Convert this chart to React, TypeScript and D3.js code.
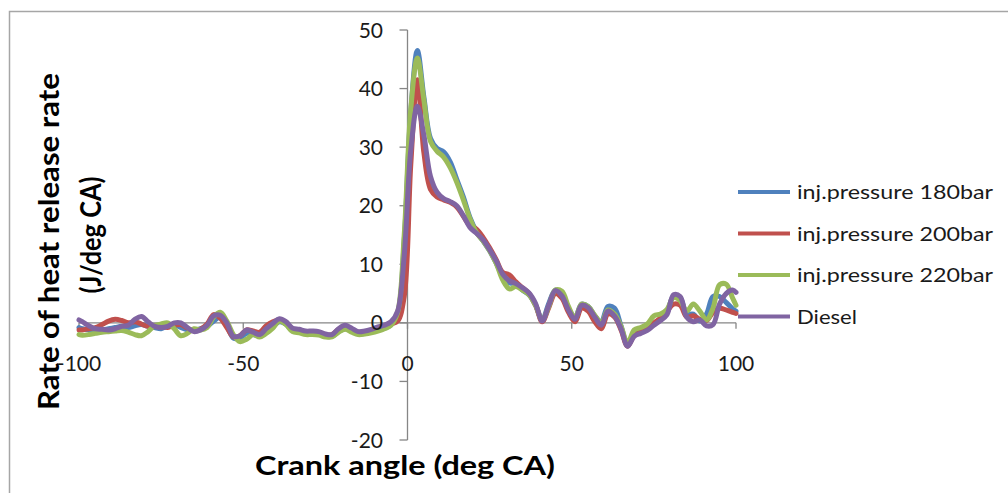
import React from "react";
import * as d3 from "d3";

// Crank angle (deg CA) sample positions
const angles = [
  -100, -99, -97, -95, -93, -91, -89, -87, -85, -83,
  -81, -79, -77, -75, -73, -71, -69, -67, -65, -63,
  -61, -59, -57, -55, -53, -51, -49, -47, -45, -43,
  -41, -39, -37, -35, -33, -31, -29, -27, -25, -23,
  -21, -19, -17, -15, -13, -11, -9, -7, -5, -3,
  -1, 1, 3, 5, 7, 9, 11, 13, 15, 17,
  19, 21, 23, 25, 27, 29, 31, 33, 35, 37,
  39, 41, 43, 45, 47, 49, 51, 53, 55, 57,
  59, 61, 63, 65, 67, 69, 71, 73, 75, 77,
  79, 81, 83, 85, 87, 89, 91, 93, 95, 97,
  99, 100,
];

const p180 = [
  -0.8, -1.0, -1.2, -1.3, -1.2, -1.0, -0.8, -0.6, -0.8, -0.5,
  -0.3, -0.6, -0.8, -1.0, -0.5, -0.3, -0.8, -1.2, -1.3, -1.0,
  -0.6, 0.3, 1.0, -0.5, -2.6, -2.6, -1.8, -2.0, -2.2, -1.5,
  -0.6, 0.2, -0.2, -1.3, -1.5, -1.8, -1.8, -1.9, -2.3, -2.3,
  -1.5, -1.0, -1.4, -1.9, -1.8, -1.5, -1.2, -0.9, -0.3, 1.5,
  14.0, 36.0, 46.5, 38.5, 31.5, 29.8, 29.2, 27.5, 24.5, 21.5,
  18.0, 15.6, 14.0, 12.3, 10.2, 8.0, 6.8, 6.8, 5.6, 4.8,
  3.0, 0.5, 3.3, 5.6, 4.8, 2.5, 0.9, 3.2, 2.8, 1.2,
  0.2, 2.8, 2.5, -0.5, -3.8, -2.0, -1.5, -1.0, -0.2, 0.6,
  1.8, 4.6, 4.3, 1.5, 1.5, 0.3, 1.5, 4.5, 4.5, 3.5,
  2.4, 2.0,
];

const p200 = [
  -1.2, -1.2, -1.0, -0.8, -0.3, 0.3, 0.6, 0.4, 0.0, 0.2,
  -0.2, -0.6, -0.5, -0.6, -0.8, -0.4, -0.3, -0.9, -1.4, -1.1,
  -0.2, 1.4, 0.8, -0.8, -2.4, -2.2, -1.2, -1.4, -1.6, -0.5,
  0.2, 0.5, -0.2, -1.1, -1.3, -1.5, -1.5, -1.7, -2.0, -2.0,
  -1.1, -0.6, -1.1, -1.6, -1.5, -1.3, -0.9, -0.6, -0.2, 0.3,
  4.5, 27.0, 41.5, 29.0, 22.8, 21.5, 21.0, 20.6, 19.8, 18.2,
  16.6, 16.0, 14.6, 12.8, 10.8, 8.6, 8.2, 7.0, 6.0, 5.0,
  3.0, 0.2, 2.6, 5.0, 4.2, 1.8, 0.2, 2.5, 2.0, 0.2,
  -1.0, 1.5, 1.0, -1.2, -4.0, -2.2, -1.6, -1.0, 0.0, 0.8,
  2.0, 3.2, 3.0, 1.0, 1.2, 0.6, 0.4, 1.8, 2.5, 2.2,
  1.8, 1.6,
];

const p220 = [
  -2.0, -2.1, -2.0, -1.8, -1.6, -1.5, -1.4, -1.3, -1.6, -2.0,
  -2.2, -1.5, -0.5, -0.2, 0.0, -1.0, -2.2, -1.8, -1.0, -1.2,
  -0.8, 1.0, 1.8, 0.3, -2.0, -3.2, -2.8, -2.0, -2.4, -1.8,
  -0.9, 0.3, -0.3, -1.5, -1.7, -2.0, -2.0, -2.1, -2.4, -2.4,
  -1.6, -1.1, -1.6, -2.0, -1.9, -1.7, -1.4, -1.0, -0.4, 1.8,
  15.0, 36.5, 45.2, 38.0, 31.0, 29.3, 28.3, 26.5, 24.0, 21.0,
  17.8, 15.4, 14.0, 12.3, 10.2, 7.3, 5.8, 6.2, 5.6, 4.8,
  3.0, 0.5, 2.8, 5.6, 5.4, 2.8, 0.8, 3.2, 2.8, 1.3,
  0.0, 2.2, 1.5, -0.6, -3.5, -1.2, -0.8, -0.2, 1.2, 1.5,
  2.3, 4.3, 3.8, 2.0, 3.2, 2.0, 0.5, 2.5, 6.5, 6.6,
  4.2, 3.0,
];

const diesel = [
  0.5, 0.2, -0.5, -1.0, -1.1, -1.2, -1.0, -0.6, -0.4, 0.6,
  1.1, 0.2, -0.6, -0.8, -0.6, 0.0, 0.0, -0.8, -1.5, -1.2,
  -0.4, 1.2, 1.3, 0.0, -2.3, -2.2, -1.2, -1.6, -2.0, -1.0,
  -0.1, 0.7, 0.2, -0.9, -1.1, -1.4, -1.4, -1.5, -1.9, -2.0,
  -1.0, -0.4, -0.9, -1.5, -1.4, -1.1, -0.7, -0.4, 0.2, 2.0,
  11.5, 29.5, 37.0, 32.0, 25.0, 22.3, 21.2, 20.7, 20.0, 18.3,
  16.3, 15.3, 14.2, 12.5, 10.6, 8.3, 7.2, 6.7, 6.0, 5.1,
  3.3, 0.3, 3.0, 5.5, 4.6, 2.2, 0.6, 3.0, 2.6, 1.0,
  -0.4, 2.0, 1.2, -1.0, -4.0, -2.3, -1.8, -1.3, -0.4, 0.4,
  1.4, 4.8, 4.5, 1.0, 0.2, 0.5, -0.5, -0.3, 3.2, 5.0,
  5.6, 5.2,
];

const seriesNames = ["inj.pressure 180bar", "inj.pressure 200bar", "inj.pressure 220bar", "Diesel"];
const seriesValues = [p180, p200, p220, diesel];
const seriesColors = ["#4F81BD", "#C0504D", "#9BBB59", "#8064A2"];

const yTicks = [-20, -10, 0, 10, 20, 30, 40, 50];
const xTicks = [-100, -50, 0, 50, 100];

const xTitle = "Crank angle (deg CA)";
const yTitle1 = "Rate of heat release rate";
const yTitle2 = "(J/deg CA)";

const FONT = "Lato, 'Open Sans', 'DejaVu Sans', sans-serif";

export default function App() {
  const W = 1008;
  const H = 493;
  const x = d3.scaleLinear().domain([-100, 100]).range([79, 736]);
  const y = d3.scaleLinear().domain([-20, 50]).range([440, 30]);
  const x0 = x(0);
  const y0 = y(0);

  const line = d3
    .line<number>()
    .x((_, i) => x(angles[i]))
    .y((d) => y(d))
    .curve(d3.curveCatmullRom.alpha(0.5));

  const legendY = d3.scalePoint<number>().domain([0, 1, 2, 3]).range([192, 316.5]);

  return (
    <svg
      width={W}
      height={H}
      style={{ position: "absolute", left: 0, top: 0, background: "#fff" }}
      fontFamily={FONT}
    >
      <rect x={0} y={0} width={W} height={H} fill="#fff" />
      {/* chart border (cut off at right/bottom) */}
      <rect x={9.5} y={11.5} width={1010} height={500} fill="none" stroke="#a6a6a6" strokeWidth={1.5} />

      {/* axes */}
      <line x1={x(-100)} x2={x(100)} y1={y0} y2={y0} stroke="#868686" strokeWidth={1.3} />
      <line x1={x0} x2={x0} y1={y(-20)} y2={y(50)} stroke="#868686" strokeWidth={1.3} />
      {yTicks.map((t) => (
        <line key={"yt" + t} x1={x0 - 8} x2={x0} y1={y(t)} y2={y(t)} stroke="#868686" strokeWidth={1.3} />
      ))}
      {xTicks.map((t) => (
        <line key={"xt" + t} x1={x(t)} x2={x(t)} y1={y0} y2={y0 + 6} stroke="#868686" strokeWidth={1.3} />
      ))}

      {/* series */}
      {seriesValues.map((vals, i) => (
        <path
          key={seriesNames[i]}
          d={line(vals) || ""}
          fill="none"
          stroke={seriesColors[i]}
          strokeWidth={5}
          strokeLinejoin="round"
          strokeLinecap="round"
        />
      ))}

      {/* tick labels */}
      {yTicks.map((t) => (
        <text key={"yl" + t} x={383} y={y(t) + 7.5} textAnchor="end" fontSize={21} fill="#1a1a1a">
          {t}
        </text>
      ))}
      {xTicks.map((t) => (
        <text key={"xl" + t} x={x(t)} y={370.5} textAnchor="middle" fontSize={21} fill="#1a1a1a">
          {t}
        </text>
      ))}

      {/* axis titles */}
      <text
        x={405}
        y={475}
        textAnchor="middle"
        fontSize={26}
        fontWeight="bold"
        fill="#000"
        textLength={300}
        lengthAdjust="spacingAndGlyphs"
      >
        {xTitle}
      </text>
      <text
        transform="translate(59,241.5) rotate(-90)"
        textAnchor="middle"
        fontSize={29}
        fontWeight="bold"
        fill="#000"
        textLength={337}
        lengthAdjust="spacingAndGlyphs"
      >
        {yTitle1}
      </text>
      <text
        transform="translate(101,235) rotate(-90)"
        textAnchor="middle"
        fontSize={28}
        fontWeight="bold"
        fill="#000"
        textLength={117}
        lengthAdjust="spacingAndGlyphs"
      >
        {yTitle2}
      </text>

      {/* legend */}
      {seriesNames.map((name, i) => (
        <g key={"lg" + i}>
          <line
            x1={738}
            x2={790}
            y1={legendY(i)!}
            y2={legendY(i)!}
            stroke={seriesColors[i]}
            strokeWidth={4}
          />
          <text
            x={797}
            y={legendY(i)! + 7}
            fontSize={20}
            fill="#1a1a1a"
            textLength={i === 3 ? 60 : 196}
            lengthAdjust="spacingAndGlyphs"
          >
            {name}
          </text>
        </g>
      ))}
    </svg>
  );
}
